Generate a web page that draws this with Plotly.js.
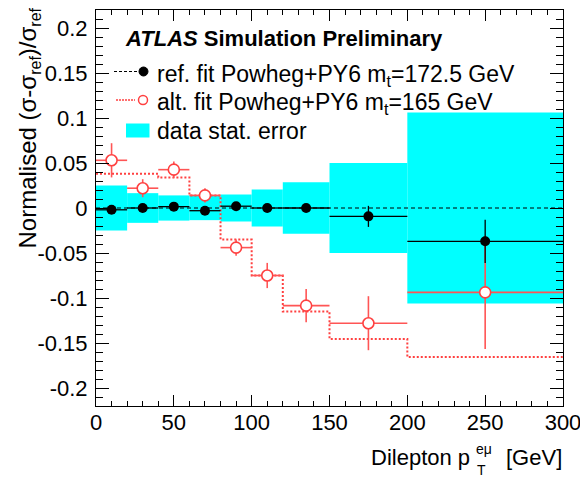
<!DOCTYPE html>
<html>
<head>
<meta charset="utf-8">
<script src="https://cdn.plot.ly/plotly-3.0.1.min.js"></script>
<style>
html,body{margin:0;padding:0;background:#fff;}
#chart{width:580px;height:479px;}
</style>
</head>
<body>
<div id="chart"></div>
<script>
// ---- data ----
const binEdges      = [0, 20, 40, 60, 80, 100, 120, 150, 200, 300];
const binCenters    = [10, 30, 50, 70, 90, 110, 135, 175, 250];
const binHalfWidths = [10, 10, 10, 10, 10, 10, 15, 25, 50];
const statErr  = [0.025, 0.0165, 0.014, 0.0135, 0.015, 0.0205, 0.0285, 0.050, 0.106];
const refVals  = [-0.002, 0.000, 0.0015, -0.003, 0.002, 0.000, 0.000, -0.0093, -0.037];
const refErr   = [0.003, 0.003, 0.003, 0.003, 0.003, 0.003, 0.003, 0.0117, 0.024];
const altVals  = [0.053, 0.022, 0.0426, 0.014, -0.044, -0.075, -0.1085, -0.128, -0.0937];
const altErr   = [0.019, 0.010, 0.009, 0.008, 0.009, 0.014, 0.0185, 0.030, 0.063];
const altHist  = [0.038, 0.038, 0.034, 0.014, -0.035, -0.075, -0.115, -0.1456, -0.1656];
const refLineX = [0, 300];
const refLineY = [0, 0];
const xTickVals = [0, 50, 100, 150, 200, 250, 300];
const xTickText = ["0", "50", "100", "150", "200", "250", "300"];
const yTickVals = [-0.2, -0.15, -0.1, -0.05, 0, 0.05, 0.1, 0.15, 0.2];
const yTickText = ["-0.2", "-0.15", "-0.1", "-0.05", "0", "0.05", "0.1", "0.15", "0.2"];

const FONT = "'Liberation Sans', Arial, Helvetica, sans-serif";
const CYAN = "#00ffff";
const RED = "#ff4040";
const REDL = "rgb(255,85,85)";

// derived
const bandBase = statErr.map(e => -e);
const bandHeight = statErr.map(e => 2 * e);
const bandWidth = binHalfWidths.map(h => 2 * h);
const histY = altHist.concat([altHist[altHist.length - 1]]);

const traces = [
  { type: "bar", x: binCenters, y: bandHeight, base: bandBase, width: bandWidth,
    marker: { color: CYAN, line: { width: 0 } }, showlegend: false, hoverinfo: "skip" },
  { type: "scatter", mode: "lines", x: refLineX, y: refLineY,
    line: { color: "black", width: 1, dash: "4px,3px" }, showlegend: false, hoverinfo: "skip" },
  { type: "scatter", mode: "lines", x: binEdges, y: histY, line: { shape: "hv", color: RED, width: 2, dash: "2px,2px" },
    showlegend: false, hoverinfo: "skip" },
  { type: "scatter", mode: "markers", x: binCenters, y: altVals,
    error_x: { type: "data", array: binHalfWidths, symmetric: true, color: REDL, thickness: 1.6, width: 0 },
    error_y: { type: "data", array: altErr, symmetric: true, color: REDL, thickness: 1.6, width: 0 },
    marker: { symbol: "circle", size: 11, color: "white", line: { color: RED, width: 1.6 } },
    showlegend: false },
  { type: "scatter", mode: "markers", x: binCenters, y: refVals,
    error_x: { type: "data", array: binHalfWidths, symmetric: true, color: "black", thickness: 1.3, width: 0 },
    error_y: { type: "data", array: refErr, symmetric: true, color: "black", thickness: 1.3, width: 0 },
    marker: { symbol: "circle", size: 10, color: "black" },
    showlegend: false }
];

// plot area in pixels: x 96..563, y 10..406
const L = 96, R = 563, T = 10, B = 406;
const px = v => (v - L) / (R - L);
const py = v => (B - v) / (B - T);

const shapes = [
  // legend symbols
  { type: "line", xref: "paper", yref: "paper", x0: px(114), x1: px(137), y0: py(71.5), y1: py(71.5),
    line: { color: "black", width: 1, dash: "3px,2px" } },
  { type: "circle", xref: "paper", yref: "paper", xsizemode: "pixel", ysizemode: "pixel",
    xanchor: px(143.5), yanchor: py(71.5), x0: -4.5, x1: 4.5, y0: -4.5, y1: 4.5,
    fillcolor: "black", line: { color: "black", width: 1 } },
  { type: "line", xref: "paper", yref: "paper", x0: px(116), x1: px(135), y0: py(100), y1: py(100),
    line: { color: RED, width: 1.6, dash: "2px,1px" } },
  { type: "circle", xref: "paper", yref: "paper", xsizemode: "pixel", ysizemode: "pixel",
    xanchor: px(143), yanchor: py(100), x0: -4.5, x1: 4.5, y0: -4.5, y1: 4.5,
    fillcolor: "white", line: { color: RED, width: 1.5 } },
  { type: "rect", xref: "paper", yref: "paper", x0: px(126), x1: px(149.5), y0: py(137.5), y1: py(123.5),
    fillcolor: CYAN, line: { width: 0 } }
];

const ann = (text, x, y, xa, size, extra) => Object.assign({
  text: text, xref: "paper", yref: "paper", x: x, y: y, xanchor: xa, yanchor: "middle",
  showarrow: false, font: { family: FONT, size: size, color: "black" }, borderpad: 0
}, extra || {});

const SUBREF = "<sub><span style='font-size:16px'>ref</span></sub>";
const annotations = [
  ann("<b><i>ATLAS</i> Simulation Preliminary</b>", px(124), py(38.5), "left", 22),
  ann("ref. fit Powheg+PY6 m<sub>t</sub>=172.5 GeV", px(156), py(75), "left", 23),
  ann("alt. fit Powheg+PY6 m<sub>t</sub>=165 GeV", px(156), py(103.5), "left", 23),
  ann("data stat. error", px(156), py(130.5), "left", 23),
  // x-axis title
  ann("Dilepton p", px(471), py(457), "right", 22),
  ann("eμ", px(475), py(449), "left", 14),
  ann("T", px(476), py(469.5), "left", 14),
  ann("[GeV]", px(563), py(457), "right", 22),
  // y-axis title
  ann("Normalised (σ-σ" + SUBREF + ")/σ" + SUBREF, px(28), py(7), "center", 24,
      { textangle: -90, yanchor: "top" })
];

const layout = {
  width: 580, height: 479,
  margin: { l: L, r: 580 - R, t: T, b: 479 - B, pad: 0 },
  paper_bgcolor: "white", plot_bgcolor: "white",
  font: { family: FONT, size: 22, color: "black" },
  barmode: "overlay",
  showlegend: false,
  xaxis: {
    range: [0, 300], tickmode: "array", tickvals: xTickVals, ticktext: xTickText,
    ticks: "inside", ticklen: 11, tickwidth: 1, tickcolor: "black",
    showline: true, linecolor: "black", linewidth: 1, mirror: "ticks",
    showgrid: false, zeroline: false, ticklabelstandoff: -3, ticklabeloverflow: "allow",
    tickfont: { family: FONT, size: 22, color: "black" },
    minor: { dtick: 10, ticks: "inside", ticklen: 5, tickcolor: "black", showgrid: false }
  },
  yaxis: {
    range: [-0.22, 0.22], tickmode: "array", tickvals: yTickVals, ticktext: yTickText,
    ticks: "inside", ticklen: 13, tickwidth: 1, tickcolor: "black",
    showline: true, linecolor: "black", linewidth: 1, mirror: "ticks",
    showgrid: false, zeroline: false, ticklabelstandoff: 3, ticklabeloverflow: "allow",
    tickfont: { family: FONT, size: 22, color: "black" },
    minor: { dtick: 0.01, ticks: "inside", ticklen: 7, tickcolor: "black", showgrid: false }
  },
  shapes: shapes,
  annotations: annotations
};

Plotly.newPlot("chart", traces, layout, { staticPlot: true, displayModeBar: false });
</script>
</body>
</html>
